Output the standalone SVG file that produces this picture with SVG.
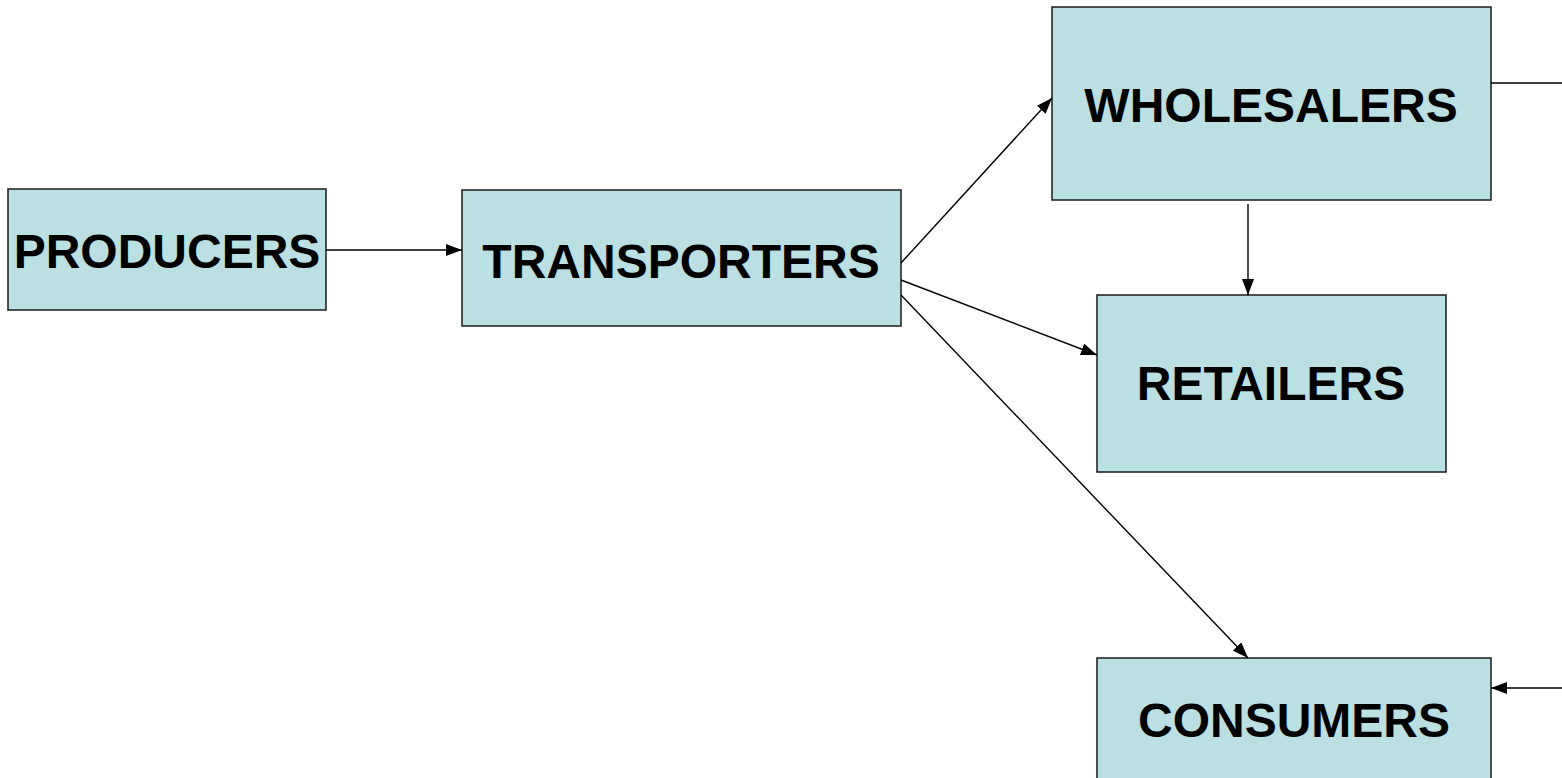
<svg xmlns="http://www.w3.org/2000/svg" width="1562" height="778" viewBox="0 0 1562 778">
<style>
.box{fill:#BAE0E3;stroke:#1a1a1a;stroke-width:1.5}
.lbl{font-family:"Liberation Sans",Arial,sans-serif;font-weight:bold;font-size:48px;fill:#000;text-anchor:middle}
.conn{stroke:#000;stroke-width:1.4;fill:none}
</style>
<defs>
<marker id="ah" markerUnits="userSpaceOnUse" markerWidth="18" markerHeight="12" refX="16" refY="6" orient="auto">
<path d="M0,0 L16,6 L0,12 Z" fill="#000"/>
</marker>
</defs>
<rect width="1562" height="778" fill="#fff"/>
<g id="producers"><rect class="box" x="8" y="189" width="318" height="121"/><text class="lbl" x="167" y="268">PRODUCERS</text></g>
<g id="transporters"><rect class="box" x="462" y="190" width="439" height="136"/><text class="lbl" x="681" y="278">TRANSPORTERS</text></g>
<g id="wholesalers"><rect class="box" x="1052" y="7" width="439" height="193"/><text class="lbl" x="1271" y="122">WHOLESALERS</text></g>
<g id="retailers"><rect class="box" x="1097" y="295" width="349" height="177"/><text class="lbl" x="1271" y="400">RETAILERS</text></g>
<g id="consumers"><rect class="box" x="1097" y="658" width="394" height="130"/><text class="lbl" x="1294" y="737">CONSUMERS</text></g>
<g id="connectors">
<line class="conn" x1="326" y1="250" x2="462" y2="250" marker-end="url(#ah)"/>
<line class="conn" x1="901" y1="263" x2="1052" y2="98" marker-end="url(#ah)"/>
<line class="conn" x1="901" y1="280" x2="1097" y2="355" marker-end="url(#ah)"/>
<line class="conn" x1="901" y1="295" x2="1248" y2="658" marker-end="url(#ah)"/>
<line class="conn" x1="1248" y1="204" x2="1248" y2="295" marker-end="url(#ah)"/>
<line class="conn" x1="1491" y1="83" x2="1562" y2="83"/>
<line class="conn" x1="1562" y1="688" x2="1491" y2="688" marker-end="url(#ah)"/>
</g>
</svg>
